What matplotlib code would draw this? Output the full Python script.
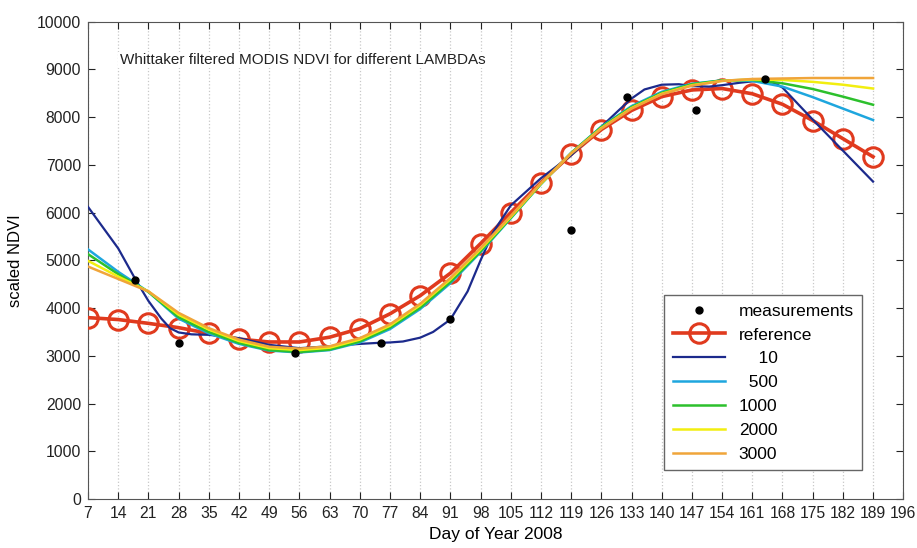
import numpy as np
import matplotlib.pyplot as plt

plt.rcParams['font.family'] = ['Liberation Sans', 'DejaVu Sans']

# measurements (black dots)
meas_day = [18, 28, 55, 75, 91, 119, 132, 148, 164]
meas_val = [4580, 3260, 3050, 3260, 3780, 5630, 8420, 8140, 8790]

# reference series and Whittaker smoothed series, sampled weekly
days = list(range(7, 190, 7))
ref = [3800, 3760, 3680, 3590, 3470, 3350, 3290, 3290, 3390, 3570, 3880, 4260, 4730,
       5350, 6000, 6630, 7220, 7740, 8140, 8430, 8570, 8600, 8490, 8270, 7930, 7550, 7170]
lam500 = [5230, 4760, 4340, 3780, 3470, 3250, 3110, 3070, 3120, 3280, 3560, 3980, 4520,
          5170, 5880, 6600, 7250, 7800, 8230, 8530, 8700, 8770, 8760, 8640, 8420, 8180, 7940]
lam1000 = [5130, 4710, 4340, 3810, 3500, 3270, 3120, 3080, 3130, 3300, 3590, 4010, 4550,
           5190, 5890, 6600, 7250, 7790, 8210, 8510, 8690, 8770, 8780, 8710, 8590, 8430, 8260]
lam2000 = [4990, 4660, 4350, 3860, 3550, 3310, 3160, 3120, 3170, 3340, 3630, 4060, 4600,
           5230, 5910, 6610, 7240, 7770, 8190, 8490, 8670, 8760, 8790, 8780, 8740, 8680, 8600]
lam3000 = [4870, 4610, 4350, 3900, 3580, 3340, 3190, 3150, 3200, 3370, 3660, 4090, 4630,
           5260, 5930, 6620, 7240, 7760, 8180, 8480, 8660, 8760, 8800, 8810, 8820, 8820, 8820]

# lambda = 10 follows the measurements closely, so it needs its own days
lam10_day = [7, 14, 18, 21, 24, 26, 28, 31, 35, 42, 49, 56, 63, 70, 74, 77, 80, 84, 87, 91,
             95, 98, 101, 105, 112, 119, 126, 130, 133, 136, 140, 144, 147, 151, 154, 158,
             161, 164, 166, 168, 175, 182, 189]
lam10 = [6120, 5250, 4600, 4150, 3780, 3580, 3490, 3450, 3440, 3370, 3230, 3160, 3200, 3250,
         3270, 3280, 3300, 3380, 3500, 3760, 4350, 5000, 5600, 6150, 6720, 7200, 7800, 8140,
         8390, 8580, 8680, 8690, 8650, 8640, 8670, 8720, 8750, 8760, 8720, 8620, 7950, 7300,
         6650]

xticks = list(range(7, 197, 7))
yticks = list(range(0, 10001, 1000))

fig = plt.figure(figsize=(9.17, 5.48), dpi=100)
ax = fig.add_axes([0.096, 0.0894, 0.889, 0.871])

ax.plot(meas_day, meas_val, 'k.', ms=10, zorder=6, label='measurements')
ax.plot(days, ref, '-o', color='#e03a1e', lw=2.6, ms=14, mfc='none', mew=2.2,
        zorder=3, label='reference')
ax.plot(lam10_day, lam10, color='#1c2a8c', lw=1.6, zorder=4, label='    10')
ax.plot(days, lam500, color='#1ea6de', lw=1.8, zorder=4, label='  500')
ax.plot(days, lam1000, color='#2cc02c', lw=1.8, zorder=4, label='1000')
ax.plot(days, lam2000, color='#f2ee10', lw=1.8, zorder=4, label='2000')
ax.plot(days, lam3000, color='#f0a53a', lw=1.8, zorder=4, label='3000')

ax.set_xlim(7, 196)
ax.set_ylim(0, 10000)
ax.set_xticks(xticks)
ax.set_yticks(yticks)
ax.tick_params(direction='in', top=True, right=True, length=5, pad=5,
               labelsize=11.3, colors='#222222')
ax.xaxis.grid(True, linestyle=':', color='#c8c8c8', lw=0.9)
for s in ax.spines.values():
    s.set_color('#555555')

ax.set_xlabel('Day of Year 2008', fontsize=12.5, labelpad=4)
ax.set_ylabel('scaled NDVI', fontsize=12, labelpad=10)

ax.text(0.039, 0.92, 'Whittaker filtered MODIS NDVI for different LAMBDAs',
        transform=ax.transAxes, fontsize=11, va='center', color='#222222',
        bbox=dict(facecolor='white', edgecolor='none', pad=1))

leg = ax.legend(loc='lower right', bbox_to_anchor=(0.95, 0.06), fontsize=12.5,
                fancybox=False, edgecolor='#666666', framealpha=1, borderaxespad=0,
                labelspacing=0.5, handlelength=3.0, borderpad=0.5)

fig.savefig('out.png', dpi=100)
